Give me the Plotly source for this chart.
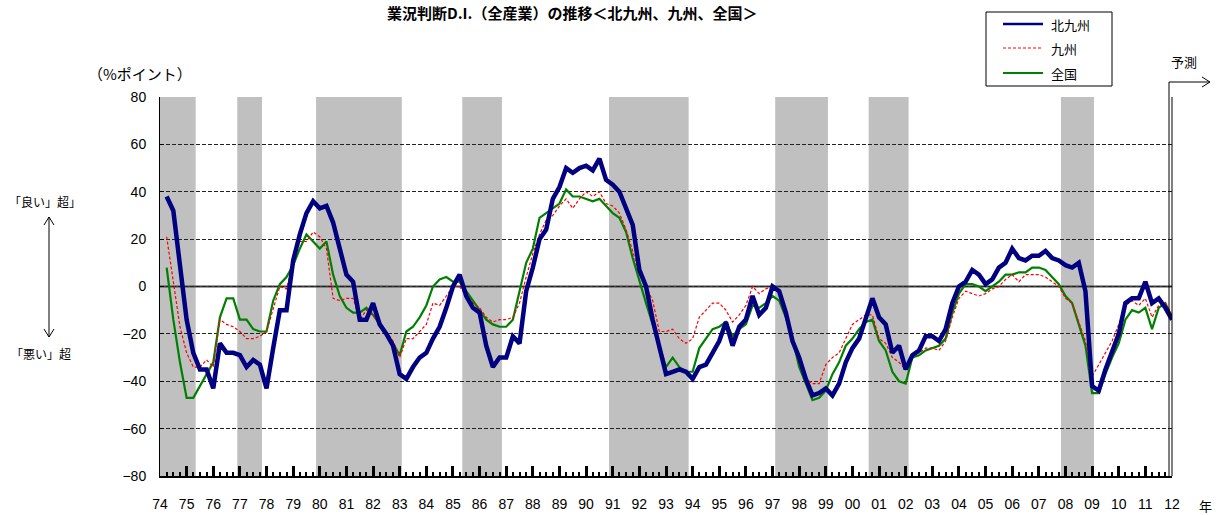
import plotly.graph_objects as go

# ---------------- data (quarterly, 1974 Q2 ... 2012 Q1) ----------------
kitakyushu = [
    38, 32, 9,
    -14, -28, -35, -35,
    -43, -24, -28, -28,
    -29, -34, -31, -33,
    -43, -26, -10, -10,
    11, 22, 31, 36,
    33, 34, 27, 16,
    5, 2, -14, -14,
    -7, -16, -20, -25,
    -37, -39, -34, -30,
    -28, -22, -17, -9,
    0, 5, -4, -9,
    -11, -25, -34, -30,
    -30, -21, -24, -2,
    8, 20, 24, 37,
    42, 50, 48, 50,
    51, 49, 54, 45,
    43, 40, 33, 26,
    7, 0, -14, -25,
    -37, -36, -35, -36,
    -39, -34, -33, -28,
    -23, -15, -25, -17,
    -14, -4, -12, -9,
    0, -2, -11, -23,
    -30, -39, -46, -45,
    -43, -46, -41, -32,
    -26, -22, -14, -5,
    -13, -16, -28, -25,
    -35, -29, -27, -21,
    -21, -23, -18, -7,
    0, 2, 7, 5,
    1, 3, 8, 10,
    16, 12, 11, 13,
    13, 15, 12, 11,
    9, 8, 10, -2,
    -42, -44, -35, -27,
    -20, -7, -5, -5,
    2, -7, -5, -9,
    -14,
]

kyushu = [
    21, 3, -17,
    -28, -34, -34, -31,
    -34, -14, -16, -17,
    -19, -22, -22, -21,
    -19, -10, 0, -1,
    10, 19, 19, 23,
    21, 16, -5, -6,
    -5, -5, -14, -10,
    -12, -16, -19, -23,
    -30, -22, -22, -19,
    -16, -7, -8, -4,
    0, 0, -4, -7,
    -9, -13, -15, -14,
    -14, -13, -7, 4,
    14, 22, 28, 30,
    34, 37, 33, 37,
    40, 38, 40, 35,
    34, 31, 24, 15,
    5, 0, -6, -19,
    -19, -18, -22, -24,
    -22, -13, -10, -7,
    -7, -10, -15, -12,
    -8, 0, -3, -1,
    0, -3, -13, -21,
    -30, -39, -41, -41,
    -33, -30, -28, -22,
    -16, -14, -12, -12,
    -22, -24, -30, -32,
    -35, -29, -28, -26,
    -26, -27, -23, -13,
    -5, -2, -3, -4,
    -3, -1, 0, 3,
    5, 2, 5, 5,
    5, 4, 2, 0,
    -5, -7, -15, -23,
    -38, -33, -28, -23,
    -16, -8, -6, -8,
    -5, -13, -8, -7,
    -12,
]

zenkoku = [
    8, -14, -32,
    -47, -47, -42, -37,
    -32, -13, -5, -5,
    -14, -14, -18, -19,
    -19, -6, 1, 4,
    9, 16, 22, 19,
    16, 19, 5, -4,
    -9, -11, -11, -9,
    -12, -16, -20, -24,
    -29, -19, -17, -13,
    -8, 0, 3, 4,
    2, 2, -2, -6,
    -10, -14, -16, -17,
    -17, -14, -2, 10,
    16, 29, 31, 33,
    35, 41, 38, 38,
    37, 36, 37, 34,
    31, 29, 23, 12,
    2, -7, -16, -25,
    -34, -30, -34, -36,
    -36, -26, -22, -18,
    -17, -15, -21, -18,
    -16, -8, -9, -7,
    -4, -6, -13, -22,
    -34, -41, -48, -47,
    -44, -37, -32, -25,
    -22, -18, -15, -14,
    -23, -27, -36, -40,
    -41, -30, -29, -27,
    -26, -25, -22, -11,
    -3, 1, 1, 0,
    -2, 0, 2, 5,
    5, 6, 6, 8,
    8, 7, 4, 1,
    -4, -7, -16, -25,
    -45, -45, -37, -30,
    -24, -14, -10, -11,
    -9, -18, -9, -7,
    -13,
]

# recession (shaded) periods, in decimal years
recession_start = [1974.0, 1976.9, 1979.86, 1985.35, 1990.86, 1997.1, 2000.61, 2007.83]
recession_end = [1975.34, 1977.83, 1983.08, 1986.84, 1993.85, 1999.08, 2002.11, 2009.07]

year_ticks = list(range(1974, 2013))
year_labels = ["74", "75", "76", "77", "78", "79", "80", "81", "82", "83", "84", "85",
               "86", "87", "88", "89", "90", "91", "92", "93", "94", "95", "96", "97",
               "98", "99", "00", "01", "02", "03", "04", "05", "06", "07", "08", "09",
               "10", "11", "12"]

series_names = ["北九州", "九州", "全国"]

# quarter positions (1974 Q2 onward)
x = [1974.25 + 0.25 * i for i in range(len(kitakyushu))]

# ---------------- geometry helpers ----------------
W, H = 1218, 515
L, R, T, B = 160, 1172, 97, 476


def px(v):
    return (v - L) / (R - L)


def py(v):
    return (B - v) / (B - T)


JP = "Noto Sans CJK JP"
NUM = "Liberation Sans, Arial, sans-serif"

NAVY = "#000080"
RED = "#FF0000"
GREEN = "#008000"

fig = go.Figure()

fig.add_trace(go.Scatter(x=x, y=zenkoku, mode="lines", name=series_names[2],
                         line=dict(color=GREEN, width=2.2), showlegend=False))
fig.add_trace(go.Scatter(x=x, y=kyushu, mode="lines", name=series_names[1],
                         line=dict(color=RED, width=1.2, dash="3px,2px"), showlegend=False))
fig.add_trace(go.Scatter(x=x, y=kitakyushu, mode="lines", name=series_names[0],
                         line=dict(color=NAVY, width=4.5), showlegend=False))

shapes = []
for s, e in zip(recession_start, recession_end):
    shapes.append(dict(type="rect", xref="x", yref="paper", x0=s, x1=e, y0=0, y1=1,
                       fillcolor="#C0C0C0", line=dict(width=0), layer="between"))
# zero line
shapes.append(dict(type="line", xref="paper", yref="y", x0=0, x1=1, y0=0, y1=0,
                   line=dict(color="#404040", width=2), layer="between"))
# right edge double line + forecast arrow
shapes.append(dict(type="line", xref="paper", yref="paper", x0=1, x1=1, y0=0, y1=1,
                   line=dict(color="black", width=1)))
shapes.append(dict(type="line", xref="paper", yref="paper", x0=px(1169), x1=px(1169),
                   y0=0, y1=py(82), line=dict(color="black", width=1)))
shapes.append(dict(type="line", xref="paper", yref="paper", x0=px(1169), x1=px(1210),
                   y0=py(82), y1=py(82), line=dict(color="black", width=1)))
shapes.append(dict(type="path", xref="paper", yref="paper",
                   path=f"M {px(1202)},{py(77)} L {px(1210)},{py(82)} L {px(1202)},{py(87)}",
                   line=dict(color="black", width=1)))
# left double-headed arrow
shapes.append(dict(type="line", xref="paper", yref="paper", x0=px(49), x1=px(49),
                   y0=py(217), y1=py(337), line=dict(color="black", width=1)))
shapes.append(dict(type="path", xref="paper", yref="paper",
                   path=f"M {px(44)},{py(225)} L {px(49)},{py(217)} L {px(54)},{py(225)}",
                   line=dict(color="black", width=1)))
shapes.append(dict(type="path", xref="paper", yref="paper",
                   path=f"M {px(44)},{py(329)} L {px(49)},{py(337)} L {px(54)},{py(329)}",
                   line=dict(color="black", width=1)))
# legend box
shapes.append(dict(type="rect", xref="paper", yref="paper", x0=px(986), x1=px(1112),
                   y0=py(86), y1=py(12), fillcolor="white", line=dict(color="black", width=1)))
legend_rows = [24, 48, 73]
legend_styles = [dict(color=NAVY, width=2.5), dict(color=RED, width=1, dash="3px,2px"),
                 dict(color=GREEN, width=2)]
for yy, st in zip(legend_rows, legend_styles):
    shapes.append(dict(type="line", xref="paper", yref="paper", x0=px(1003), x1=px(1043),
                       y0=py(yy), y1=py(yy), line=st))

annotations = []
for yy, name in zip(legend_rows, series_names):
    annotations.append(dict(xref="paper", yref="paper", x=px(1049), y=py(yy), text=name,
                            showarrow=False, xanchor="left", yanchor="middle",
                            font=dict(family=JP, size=13, color="black")))
annotations += [
    dict(xref="paper", yref="paper", x=px(572), y=py(12),
         text="<b>業況判断D.I.（全産業）の推移＜北九州、九州、全国＞</b>",
         showarrow=False, xanchor="center", yanchor="middle",
         font=dict(family=JP, size=15, color="black")),
    dict(xref="paper", yref="paper", x=px(140), y=py(74), text="（%ポイント）",
         showarrow=False, xanchor="center", yanchor="middle",
         font=dict(family=JP, size=15, color="black")),
    dict(xref="paper", yref="paper", x=px(45), y=py(201), text="「良い」超」",
         showarrow=False, xanchor="center", yanchor="middle",
         font=dict(family=JP, size=12, color="black")),
    dict(xref="paper", yref="paper", x=px(41), y=py(353), text="「悪い」超",
         showarrow=False, xanchor="center", yanchor="middle",
         font=dict(family=JP, size=12, color="black")),
    dict(xref="paper", yref="paper", x=px(1184), y=py(62), text="予測",
         showarrow=False, xanchor="center", yanchor="middle",
         font=dict(family=JP, size=13, color="black")),
    dict(xref="paper", yref="paper", x=px(1205), y=py(505), text="年",
         showarrow=False, xanchor="center", yanchor="middle",
         font=dict(family=JP, size=13, color="black")),
]

fig.update_layout(
    width=W, height=H, autosize=False,
    margin=dict(l=L, r=W - R, t=T, b=H - B, pad=0, autoexpand=False),
    paper_bgcolor="white", plot_bgcolor="white",
    showlegend=False,
    shapes=shapes, annotations=annotations,
    xaxis=dict(range=[1974, 2012], tickmode="array", tickvals=year_ticks, ticktext=year_labels,
               ticks="inside", ticklen=10, tickwidth=2.5, tickcolor="black",
               showline=True, linecolor="black", linewidth=1.5, mirror=False,
               showgrid=False, zeroline=False, automargin=False,
               minor=dict(tickmode="linear", tick0=1974, dtick=0.25, ticks="inside",
                          ticklen=4, tickwidth=1.5, tickcolor="black", showgrid=False),
               tickfont=dict(family=NUM, size=14, color="black"), ticklabelstandoff=14),
    yaxis=dict(range=[-80, 80], tickmode="linear", tick0=-80, dtick=20,
               ticks="inside", ticklen=4, tickcolor="black",
               showline=True, linecolor="black", linewidth=1, automargin=False,
               showgrid=True, gridcolor="#222222", gridwidth=1, griddash="4px,2px",
               zeroline=False,
               tickfont=dict(family=NUM, size=14, color="black"), ticklabelstandoff=10),
)

fig.write_html("out.html", config={"displayModeBar": False},
               post_script="document.body.style.margin='0';document.body.style.padding='0';")
